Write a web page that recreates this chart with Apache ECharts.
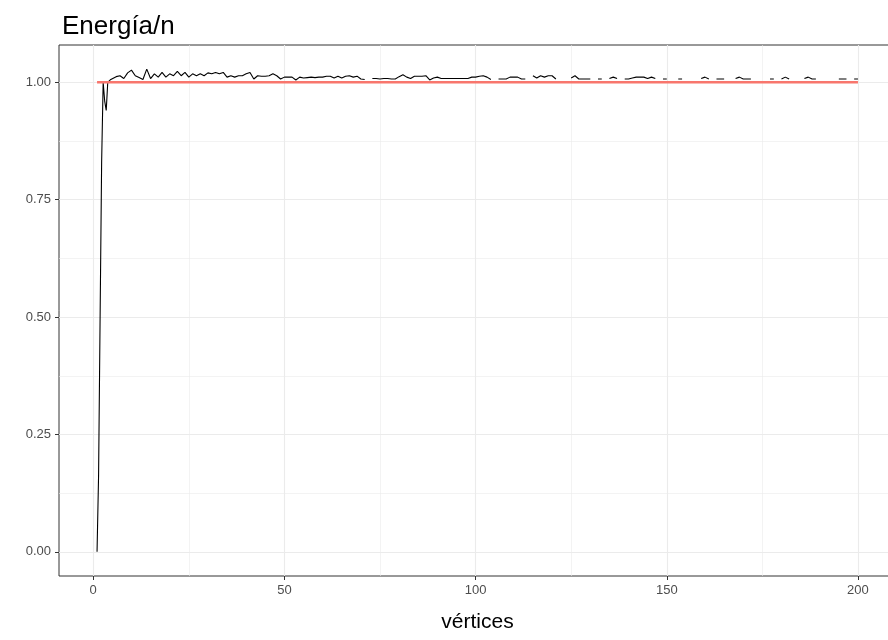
<!DOCTYPE html>
<html>
<head>
<meta charset="utf-8">
<script src="https://cdn.jsdelivr.net/npm/echarts@6/dist/echarts.min.js"></script>
<style>
  html, body { margin: 0; padding: 0; background: #fff; }
  #chartMain { width: 888px; height: 640px; }
</style>
</head>
<body>
<div id="chartMain"></div>
<script>
// valores (vértices -> energía/n)
var vertices = [
  1, 1.4, 1.8, 2.2, 2.6, 3.0, 3.4, 3.8, 4.2, 4.6,
  5, 6, 7, 8, 9, 10, 11, 12, 13, 14,
  15, 16, 17, 18, 19, 20, 21, 22, 23, 24,
  25, 26, 27, 28, 29, 30, 31, 32, 33, 34,
  35, 36, 37, 38, 39, 40, 41, 42, 43, 44,
  45, 46, 47, 48, 49, 50, 51, 52, 53, 54,
  55, 56, 57, 58, 59, 60, 61, 62, 63, 64,
  65, 66, 67, 68, 69, 70, 71, 72, 73, 74,
  75, 76, 77, 78, 79, 80, 81, 82, 83, 84,
  85, 86, 87, 88, 89, 90, 91, 92, 93, 94,
  95, 96, 97, 98, 99, 100, 101, 102, 103, 104,
  105, 106, 107, 108, 109, 110, 111, 112, 113, 114,
  115, 116, 117, 118, 119, 120, 121, 122, 123, 124,
  125, 126, 127, 128, 129, 130, 131, 132, 133, 134,
  135, 136, 137, 138, 139, 140, 141, 142, 143, 144,
  145, 146, 147, 148, 149, 150, 151, 152, 153, 154,
  155, 156, 157, 158, 159, 160, 161, 162, 163, 164,
  165, 166, 167, 168, 169, 170, 171, 172, 173, 174,
  175, 176, 177, 178, 179, 180, 181, 182, 183, 184,
  185, 186, 187, 188, 189, 190, 191, 192, 193, 194,
  195, 196, 197, 198, 199, 200
];
var energia = [
  0, 0.162, 0.5, 0.83, 1.0, 0.96, 0.94, 1.0, 1.003, 1.006,
  1.010, 1.012, 1.014, 1.008, 1.020, 1.026, 1.014, 1.010, 1.006, 1.028,
  1.008, 1.018, 1.011, 1.021, 1.011, 1.018, 1.014, 1.023, 1.014, 1.021,
  1.011, 1.018, 1.014, 1.018, 1.014, 1.020, 1.018, 1.021, 1.018, 1.021,
  1.011, 1.014, 1.011, 1.014, 1.014, 1.018, 1.021, 1.007, 1.014, 1.013,
  1.013, 1.014, 1.018, 1.014, 1.007, 1.011, 1.011, 1.011, 1.005, 1.011,
  1.009, 1.010, 1.011, 1.010, 1.011, 1.011, 1.013, 1.013, 1.009, 1.013,
  1.009, 1.013, 1.014, 1.011, 1.013, 1.007, 1.006, null, 1.008, 1.008,
  1.007, 1.008, 1.008, 1.007, 1.007, 1.012, 1.016, 1.011, 1.008, 1.013,
  1.013, 1.013, 1.014, 1.005, 1.009, 1.011, 1.008, 1.008, 1.008, 1.008,
  1.008, 1.008, 1.008, 1.008, 1.011, 1.011, 1.013, 1.014, 1.011, 1.006,
  null, 1.007, 1.007, 1.007, 1.011, 1.011, 1.011, 1.007, 1.007, null,
  1.014, 1.009, 1.014, 1.011, 1.014, 1.014, 1.007, null, null, null,
  1.009, 1.014, 1.007, 1.007, 1.007, 1.007, null, 1.007, 1.007, null,
  1.008, 1.011, 1.008, null, 1.007, 1.007, 1.009, 1.011, 1.011, 1.011,
  1.008, 1.011, 1.008, null, 1.007, 1.007, null, null, 1.007, 1.007,
  null, null, null, null, 1.008, 1.011, 1.007, null, 1.007, 1.007,
  1.007, null, null, 1.008, 1.011, 1.007, 1.007, 1.007, null, null,
  null, null, 1.007, 1.007, null, 1.007, 1.011, 1.007, null, null,
  null, 1.008, 1.011, 1.007, 1.007, null, null, null, null, null,
  1.007, 1.007, 1.007, null, 1.007, 1.007
];
// línea de referencia en 1
var refX = [1, 200];
var refY = [1, 1];

var xTicks = [0, 50, 100, 150, 200];
var xMinor = [25, 75, 125, 175];
var yTicks = [0, 0.25, 0.5, 0.75, 1];
var yMinor = [0.125, 0.375, 0.625, 0.875];

var FONT = 'Liberation Sans, Arial, sans-serif';

function pares(xs, ys) {
	var out = [];
	for (var i = 0; i < xs.length; i++) {
		out.push([xs[i], ys[i] === null ? NaN : ys[i]]);
	}
	return out;
}

var myChart = echarts.init(document.getElementById('chartMain'), null, { renderer: 'canvas' });

var option = {
	animation: false,
	backgroundColor: '#ffffff',
	title: {
		text: 'Energía/n',
		left: 57,
		top: 9,
		textStyle: { fontFamily: FONT, fontSize: 26, fontWeight: 'normal', color: '#000000' }
	},
	// el panel sigue más allá del borde derecho de la imagen
	grid: {
		left: 59, top: 45, width: 837, height: 531,
		outerBoundsMode: 'none',
		containLabel: false,
		show: true, borderColor: '#333333', borderWidth: 1,
		backgroundColor: 'transparent'
	},
	xAxis: [{
		type: 'value', min: -8.95, max: 209.95,
		name: 'vértices', nameLocation: 'middle', nameGap: 36,
		nameTextStyle: { fontFamily: FONT, fontSize: 21, color: '#000000' },
		axisLine: { show: false, onZero: false },
		axisTick: { show: true, length: 4, customValues: xTicks, lineStyle: { color: '#333333', width: 1 } },
		axisLabel: { customValues: xTicks, color: '#4D4D4D', fontFamily: FONT, fontSize: 13, margin: 8 },
		splitLine: { show: true, lineStyle: { color: '#EBEBEB', width: 1.1 } }
	}, {
		type: 'value', min: -8.95, max: 209.95, position: 'bottom',
		axisLine: { show: false, onZero: false },
		axisTick: { show: false, customValues: xMinor },
		axisLabel: { show: false },
		splitLine: { show: true, lineStyle: { color: '#EBEBEB', width: 0.6 } }
	}],
	yAxis: [{
		type: 'value', min: -0.0514, max: 1.0794,
		axisLine: { show: false, onZero: false },
		axisTick: { show: true, length: 4, customValues: yTicks, lineStyle: { color: '#333333', width: 1 } },
		axisLabel: {
			customValues: yTicks, color: '#4D4D4D', fontFamily: FONT, fontSize: 13, margin: 8,
			formatter: function(v) { return v.toFixed(2); }
		},
		splitLine: { show: true, lineStyle: { color: '#EBEBEB', width: 1.1 } }
	}, {
		type: 'value', min: -0.0514, max: 1.0794, position: 'left',
		axisLine: { show: false, onZero: false },
		axisTick: { show: false, customValues: yMinor },
		axisLabel: { show: false },
		splitLine: { show: true, lineStyle: { color: '#EBEBEB', width: 0.6 } }
	}],
	series: [{
		type: 'line',
		xAxisIndex: 0, yAxisIndex: 0,
		data: pares(vertices, energia),
		showSymbol: false,
		connectNulls: false,
		lineStyle: { color: '#000000', width: 1.1 },
		silent: true
	}, {
		type: 'line',
		xAxisIndex: 0, yAxisIndex: 0,
		data: pares(refX, refY),
		showSymbol: false,
		lineStyle: { color: '#F8766D', width: 2.6, cap: 'butt' },
		silent: true
	}]
};

myChart.setOption(option);
</script>
</body>
</html>
